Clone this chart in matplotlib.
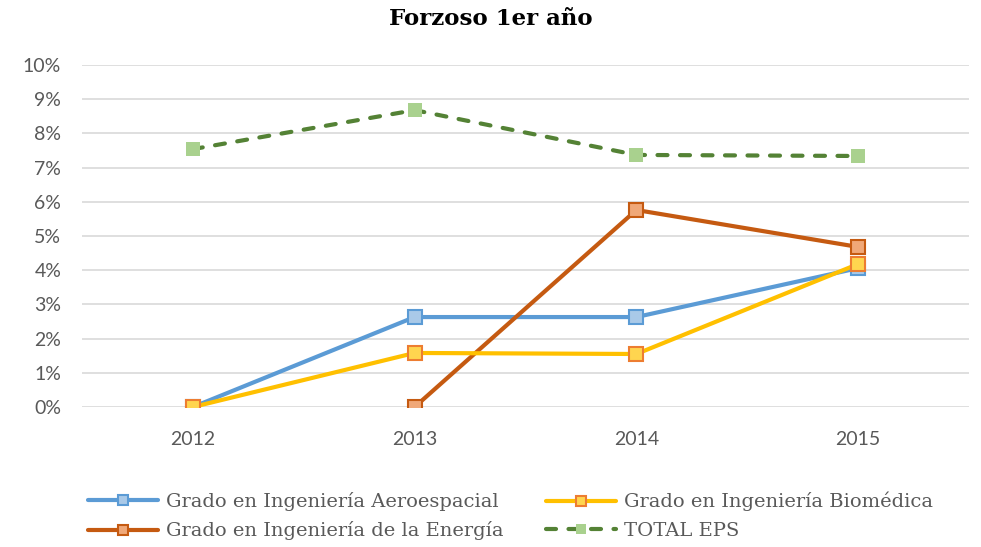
import matplotlib
matplotlib.use("Agg")
import matplotlib.pyplot as plt
from matplotlib.ticker import PercentFormatter
import numpy as np

years = ["2012", "2013", "2014", "2015"]
aero = [0.0, 2.63, 2.63, 4.06]
bio = [0.0, 1.58, 1.55, 4.18]
energia = [np.nan, 0.0, 5.76, 4.68]
total_eps = [7.54, 8.68, 7.37, 7.34]

series = {
    "aero": ("Grado en Ingeniería Aeroespacial", aero, "#5B9BD5", "#A9C9E8", "#5B9BD5", "-"),
    "energia": ("Grado en Ingeniería de la Energía", energia, "#C55A11", "#F0A878", "#C55A11", "-"),
    "bio": ("Grado en Ingeniería Biomédica", bio, "#FFC000", "#FFD54F", "#ED7D31", "-"),
    "total": ("TOTAL EPS", total_eps, "#548235", "#A9D18E", "none", "dash"),
}

fig = plt.figure(figsize=(9.81, 5.47), dpi=100)
W, H = 981, 547
ax = fig.add_axes([82 / W, 1 - 407 / H, (969 - 82) / W, (407 - 65) / H])

x = np.arange(len(years))
handles = {}
for key, (label, vals, color, face, edge, style) in series.items():
    y = np.array(vals, dtype=float) / 100
    if style == "dash":
        (ln,) = ax.plot(x, y, color=color, lw=3.0, linestyle=(0, (2.4, 3.0)),
                        dash_capstyle="round", marker="s", markersize=9.5,
                        markerfacecolor=face, markeredgecolor=face,
                        markeredgewidth=0, label=label, zorder=3)
    else:
        (ln,) = ax.plot(x, y, color=color, lw=3.0, marker="s", markersize=10,
                        markerfacecolor=face, markeredgecolor=edge,
                        markeredgewidth=1.5, label=label, zorder=3,
                        solid_capstyle="round")
    handles[key] = ln

ax.set_xlim(-0.5, 3.5)
ax.set_ylim(0, 0.10)
ax.set_yticks(np.arange(0, 0.101, 0.01))
ax.yaxis.set_major_formatter(PercentFormatter(xmax=1, decimals=0))
ax.set_xticks(x)
ax.set_xticklabels(years)
ax.grid(axis="y", color="#D9D9D9", lw=1.2, zorder=0)
ax.set_axisbelow(True)
for s in ax.spines.values():
    s.set_visible(False)
ax.tick_params(axis="both", length=0, labelsize=14, labelcolor="#595959")
ax.tick_params(axis="y", pad=15)
ax.tick_params(axis="x", pad=17)
for t in ax.get_xticklabels() + ax.get_yticklabels():
    t.set_fontfamily("Lato")

fig.text(0.5, 1 - 19 / H, "Forzoso 1er año", ha="center", va="center",
         fontsize=16.5, fontweight="bold", family="DejaVu Serif", color="#000000")

legend_kw = dict(frameon=False, handlelength=3.6, handletextpad=0.4,
                 labelspacing=0.55, borderpad=0, borderaxespad=0, markerscale=0.75,
                 prop={"family": "DejaVu Serif", "size": 14})

leg1 = fig.legend(handles=[handles["aero"], handles["energia"]], loc="center left",
                  bbox_to_anchor=(88 / W, 1 - 516 / H), **legend_kw)
leg2 = fig.legend(handles=[handles["bio"], handles["total"]], loc="center left",
                  bbox_to_anchor=(546 / W, 1 - 516 / H), **legend_kw)
for leg in (leg1, leg2):
    for t in leg.get_texts():
        t.set_color("#595959")

fig.savefig("out.png", dpi=100)
